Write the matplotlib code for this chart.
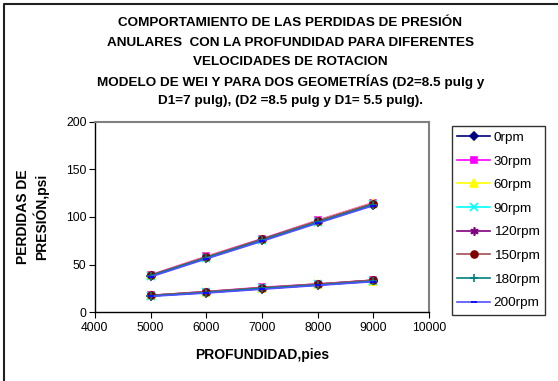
import numpy as np
import matplotlib.pyplot as plt
from matplotlib.lines import Line2D

plt.rcParams['font.family'] = ['Liberation Sans', 'DejaVu Sans']

# Profundidad (pies) and pressure losses (psi) for both geometries
depth = [5000, 6000, 7000, 8000, 9000]
rpm_labels = ['0rpm', '30rpm', '60rpm', '90rpm', '120rpm', '150rpm', '180rpm', '200rpm']

# D2=8.5 pulg, D1=7 pulg
geo1 = [
    [38.0, 56.5, 75.5, 94.5, 113.0],
    [39.0, 58.5, 77.0, 96.5, 115.0],
    [38.5, 58.0, 76.5, 96.0, 114.5],
    [38.0, 57.0, 76.0, 95.0, 113.5],
    [38.5, 57.5, 76.5, 95.5, 114.0],
    [38.5, 57.5, 76.5, 95.5, 114.0],
    [38.0, 57.0, 75.5, 94.5, 113.0],
    [37.0, 56.0, 74.5, 93.5, 112.0],
]
# D2=8.5 pulg, D1=5.5 pulg
geo2 = [
    [17.0, 20.5, 24.5, 28.5, 32.5],
    [17.5, 21.5, 26.0, 29.5, 33.5],
    [17.5, 21.0, 25.5, 29.0, 33.0],
    [17.0, 21.0, 25.0, 29.0, 33.0],
    [17.5, 21.0, 25.5, 29.0, 33.5],
    [17.5, 21.5, 25.5, 29.5, 33.5],
    [17.0, 20.5, 25.0, 28.5, 32.5],
    [16.5, 20.0, 24.0, 28.0, 32.0],
]

title_lines = ['COMPORTAMIENTO DE LAS PERDIDAS DE PRESIÓN',
               'ANULARES  CON LA PROFUNDIDAD PARA DIFERENTES',
               'VELOCIDADES DE ROTACION',
               'MODELO DE WEI Y PARA DOS GEOMETRÍAS (D2=8.5 pulg y',
               'D1=7 pulg), (D2 =8.5 pulg y D1= 5.5 pulg).']

colors = ['#000080', '#FF00FF', '#FFFF00', '#00FFFF', '#800080', '#800000', '#008080', '#0000FF']
line_colors = ['#000080', '#FF00FF', '#FFFF00', '#00FFFF', '#800080', '#A05050', '#008080', '#5050FF']
markers = ['D', 's', '^', 'x', (6, 2, 0), 'o', '+', '_']
msizes = [4.5, 5, 5.5, 5.5, 6, 5, 6, 4]

fig = plt.figure(figsize=(5.58, 3.81), dpi=100)
ax = fig.add_axes([0.170, 0.181, 0.599, 0.499])

for i in range(len(rpm_labels)):
    x = depth + [np.nan] + depth
    y = geo1[i] + [np.nan] + geo2[i]
    ax.plot(x, y, color=line_colors[i], lw=1.2, marker=markers[i], ms=msizes[i],
            mfc=colors[i], mec=colors[i], mew=1.2, label=rpm_labels[i])

ax.set_xlim(4000, 10000)
ax.set_ylim(0, 200)
ax.set_xticks(range(4000, 10001, 1000))
ax.set_yticks(range(0, 201, 50))
ax.tick_params(direction='out', length=4, labelsize=8.7, pad=3)
ax.tick_params(axis='y', pad=2)
for s in ['top', 'right']:
    ax.spines[s].set_color('#808080')
    ax.spines[s].set_linewidth(1.5)
for s in ['left', 'bottom']:
    ax.spines[s].set_linewidth(1.0)

ax.set_xlabel('PROFUNDIDAD,pies', fontsize=10, fontweight='bold', labelpad=10)
ax.set_ylabel('PERDIDAS DE\nPRESIÓN,psi', fontsize=10, fontweight='bold', labelpad=12)

# title, one line at a time
for k, line in enumerate(title_lines):
    fig.text(0.52, 1 - (23 + 19.5 * k) / 381, line, ha='center', va='center',
             fontsize=9.7, fontweight='bold')

leg = fig.legend(loc='upper left', bbox_to_anchor=(0.810, 0.669), borderaxespad=0,
                 fontsize=9.7, frameon=True, fancybox=False, edgecolor='black',
                 handlelength=2.4, labelspacing=0.83, borderpad=0.4, handletextpad=0.3)
leg.get_frame().set_linewidth(1.0)

# chart frame (left and top edges)
fig.add_artist(Line2D([3.5 / 558, 3.5 / 558, 1.0], [0.0, 1 - 3.5 / 381, 1 - 3.5 / 381],
                      transform=fig.transFigure, color='#202020', lw=1.5))

fig.savefig('out.png', dpi=100)
